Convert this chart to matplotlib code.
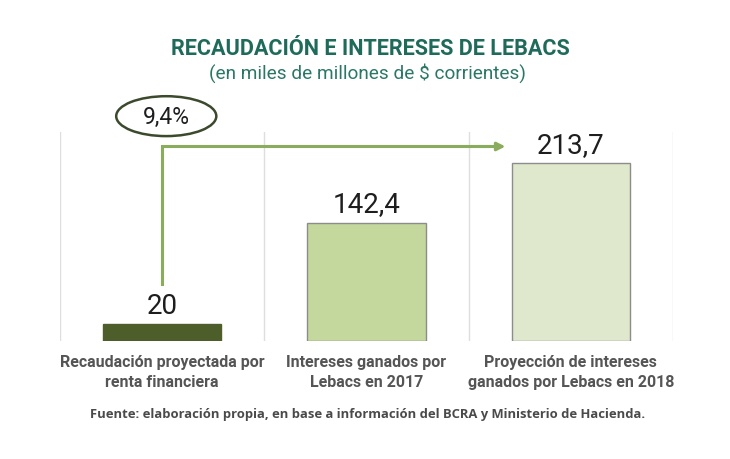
import matplotlib.pyplot as plt
from matplotlib.patches import Ellipse

# datos
categorias = ['Recaudación proyectada por\nrenta financiera',
              'Intereses ganados por\nLebacs en 2017',
              'Proyección de intereses\nganados por Lebacs en 2018']
valores = [20, 142.4, 213.7]
etiquetas = ['20', '142,4', '213,7']
porcentaje = '9,4%'

colores = ['#4d5e2a', '#c4d79d', '#dfe8cc']
bordes = ['#4d5e2a', '#8c8c8c', '#8c8c8c']
verde_flecha = '#8aad5d'
teal = '#1f6b5b'

fig = plt.figure(figsize=(7.3, 4.6), dpi=100)
fig.patch.set_facecolor('white')
ax = fig.add_axes([0.0822, 0.2565, 0.8397, 0.4543])

x = list(range(len(valores)))
ax.bar(x, valores, width=0.578, color=colores, edgecolor=bordes, linewidth=1, zorder=2)

for sep in [-0.5, 0.5, 1.5, 2.5]:
    ax.axvline(sep, color='#dedede', lw=1, zorder=0)

for xi, v, t in zip(x, valores, etiquetas):
    ax.text(xi, v + 14, t, ha='center', va='baseline', fontsize=20,
            family='Roboto', color='#1e1e1e')

# flecha
ax.plot([0, 0, 1.6], [68, 234, 234], color=verde_flecha, lw=2.2, zorder=3,
        solid_joinstyle='miter')
ax.annotate('', xy=(1.68, 234), xytext=(1.55, 234),
            arrowprops=dict(arrowstyle='-|>', color=verde_flecha, lw=2.2,
                            mutation_scale=12, shrinkA=0, shrinkB=0))
ax.add_patch(Ellipse((0.02, 270.5), 0.49, 48, fc='white', ec='#3b4a2c', lw=1.8,
                     clip_on=False, zorder=4))
ax.text(0.02, 270.5, porcentaje, ha='center', va='center', fontsize=16.5,
        family='Roboto', color='#1e1e1e', zorder=5)

ax.set_xlim(-0.5, 2.5)
ax.set_ylim(0, 251.4)
ax.axis('off')

for xi, c in zip(x, categorias):
    ax.text(xi, -16, c, ha='center', va='top', fontsize=11.5, fontweight='bold',
            family='Roboto', color='#555555', linespacing=1.35)

fig.text(0.508, 0.893, 'RECAUDACIÓN E INTERESES DE LEBACS', ha='center', va='center',
         fontsize=15.6, fontweight='bold', family='Roboto', color=teal)
fig.text(0.504, 0.84, '(en miles de millones de $ corrientes)', ha='center', va='center',
         fontsize=13.7, family='Roboto', color='#2b7766')
fig.text(0.503, 0.099, 'Fuente: elaboración propia, en base a información del BCRA y Ministerio de Hacienda.',
         ha='center', va='center', fontsize=9.4, fontweight='bold', family='Open Sans',
         color='#4a4a4a')

fig.savefig('out.png', dpi=100)
